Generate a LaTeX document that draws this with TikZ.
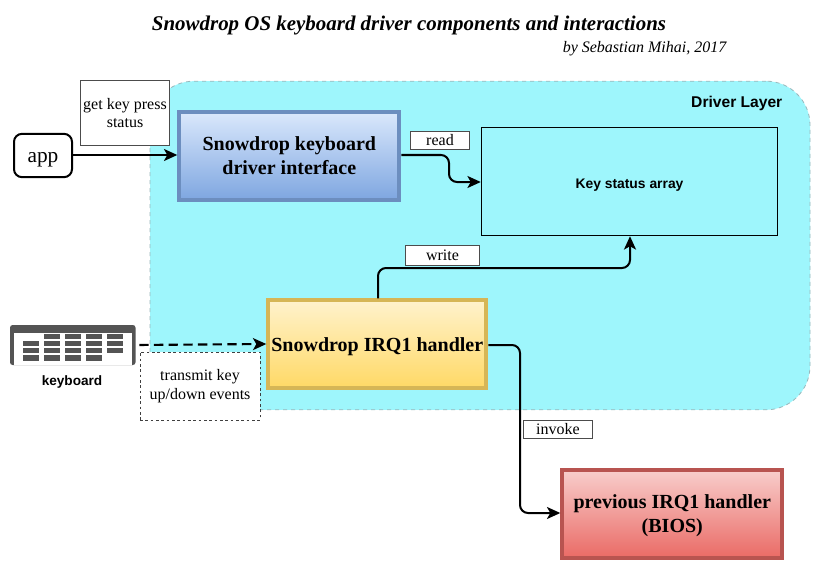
\documentclass[tikz,border=0pt]{standalone}
\usepackage{fontspec}
\setmainfont{Liberation Serif}
\setsansfont{Liberation Sans}
\usetikzlibrary{arrows.meta}
\definecolor{layerfill}{HTML}{9EF6FC}
\definecolor{layerline}{HTML}{9AB8BC}
\definecolor{kbgray}{HTML}{545454}
\newcommand{\lowerline}[2]{\raisebox{-#1}[0.7em][0.2em]{#2}}
\tikzset{
  x=0.75pt,y=-0.75pt,
  gradbox/.style={rectangle,line width=3pt,inner sep=0pt,align=center,font=\bfseries\fontsize{15}{18}\selectfont},
  labelbox/.style={rectangle,draw=black!70,fill=white,line width=0.6pt,inner sep=0pt,align=center,font=\fontsize{12}{14}\selectfont},
  conn/.style={line width=1.5pt,-{Stealth[length=10pt,width=9pt,inset=2.5pt]},rounded corners=6pt},
  kbkey/.style={fill=kbgray,draw=none},
}
\begin{document}
\begin{tikzpicture}
\useasboundingbox (0,0) rectangle (827,563);
\fill[white] (0,0) rectangle (827,563);
% layer
\node[name=layer,rectangle,draw=layerline,dashed,fill=layerfill,line width=0.6pt,rounded corners=33pt,minimum width=495pt,minimum height=246.5pt,inner sep=0pt] at (480,245.5) {};
\node[name=layertext,font=\sffamily\bfseries\fontsize{11.7}{13}\selectfont,anchor=east] at (787,103.5) {Driver Layer};
% title
\node[name=title,font=\bfseries\itshape\fontsize{15.7}{18}\selectfont,anchor=center] at (409,25.5) {Snowdrop OS keyboard driver components and interactions};
\node[name=by,font=\itshape\fontsize{12}{13}\selectfont,anchor=east] at (731,49) {by Sebastian Mihai, 2017};
% boxes
\node[name=app,rectangle,draw=black,fill=white,line width=1.5pt,rounded corners=6pt,minimum width=43.5pt,minimum height=32.5pt,inner sep=0pt,font=\fontsize{16}{18}\selectfont] at (43,155.5) {\lowerline{1pt}{app}};
\node[name=getkey,labelbox,minimum width=67pt,minimum height=49pt] at (125,113) {get key press\\status};
\node[name=iface,gradbox,draw={rgb,255:red,108;green,142;blue,191},top color={rgb,255:red,218;green,232;blue,252},bottom color={rgb,255:red,126;green,166;blue,224},minimum width=165pt,minimum height=66pt] at (289.3,156) {\lowerline{1pt}{Snowdrop keyboard}\\\lowerline{1pt}{driver interface}};
\node[name=status,rectangle,draw=black,line width=0.6pt,minimum width=222.5pt,minimum height=81.5pt,inner sep=0pt,font=\bfseries\sffamily\fontsize{10.4}{12}\selectfont] at (629.5,181.5) {\lowerline{3pt}{Key status array}};
\node[name=read,labelbox,minimum width=44pt,minimum height=14pt] at (440,140.5) {read};
\node[name=write,labelbox,minimum width=56pt,minimum height=15pt] at (442.5,255) {write};
\node[name=irq,gradbox,draw={rgb,255:red,214;green,182;blue,86},top color={rgb,255:red,255;green,242;blue,204},bottom color={rgb,255:red,255;green,217;blue,102},minimum width=163.5pt,minimum height=65.5pt] at (377.3,344) {\lowerline{2pt}{Snowdrop IRQ1 handler}};
\node[name=prev,gradbox,draw={rgb,255:red,184;green,84;blue,80},top color={rgb,255:red,248;green,206;blue,204},bottom color={rgb,255:red,234;green,107;blue,102},minimum width=165pt,minimum height=66pt] at (672.3,513.5) {\lowerline{1.5pt}{previous IRQ1 handler}\\\lowerline{1.5pt}{(BIOS)}};
\node[name=invoke,labelbox,minimum width=52pt,minimum height=14pt] at (558,429.5) {invoke};
\node[name=transmit,rectangle,draw=black!75,dash pattern=on 2pt off 2pt,fill=white,line width=0.6pt,minimum width=90pt,minimum height=51pt,inner sep=0pt,align=center,font=\fontsize{12}{14.5}\selectfont] at (200,386) {transmit key\\up/down events};
% keyboard icon
\node[name=kb,rectangle,minimum width=93.75pt,minimum height=30pt,inner sep=0pt] at (72.5,345) {};
\fill[kbgray,rounded corners=2pt] (10,365) -- (10,325) -- (135.5,325) -- (135.5,365) -- cycle;
\fill[white] (14,332.5) rectangle (131.5,365);
\foreach \kx in {22.7,44,65,86,107.3}{
  \foreach \ky in {333.5,341,348,355.3}{
    \fill[kbkey] (\kx,\ky) rectangle ++(16,5.2);
  }
}
\fill[white] (22,333) rectangle (39.5,340.5);
\fill[white] (107,355) rectangle (124,361);
\node[name=kblabel,font=\sffamily\bfseries\fontsize{10.2}{12}\selectfont] at (72,382) {keyboard};
% connectors
\draw[conn] (app.east |- 0,155) -- (iface.west |- 0,155);
\draw[conn] (iface.east |- 0,155) -- (449,155) -- (449,182) -- (status.west |- 0,182);
\draw[conn] (irq.north -| 378,0) -- (378,268) -- (630,268) -- (status.south -| 630,0);
\draw[conn] (irq.east |- 0,345) -- (520,345) -- (520,513) -- (prev.west |- 0,513);
\draw[conn,dash pattern=on 7pt off 4pt,line width=1.6pt,shorten <=3pt] (kb.east) -- (irq.west);
\end{tikzpicture}
\end{document}
